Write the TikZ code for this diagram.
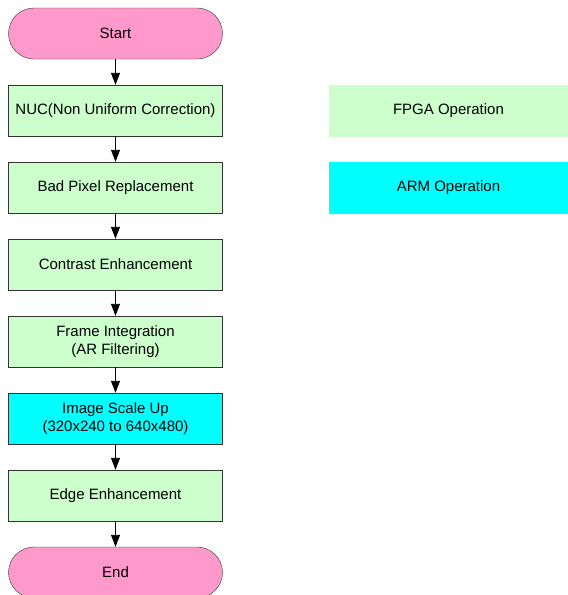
\documentclass[tikz,border=0pt]{standalone}
\usepackage{fontspec}
\setmainfont{Liberation Sans}
\usetikzlibrary{positioning, arrows.meta}
\colorlet{box edge}{black!80}
\definecolor{fpga area}{HTML}{CCFFCC}
\definecolor{arm area}{HTML}{00FFFF}
\definecolor{term area}{HTML}{FF99CC}
\tikzset{
  x=1pt, y=1pt,
  every node/.style={font=\fontsize{15}{17.5}\selectfont, align=center},
  fpgabox/.style={rectangle, fill=fpga area, draw=box edge, minimum width=214pt, minimum height=51pt},
  armbox/.style={fpgabox, fill=arm area},
  terminal/.style={fpgabox, fill=term area, rounded corners=25.5pt},
  legend/.style={rectangle, minimum width=239pt, minimum height=52pt},
  edge/.style={-{Triangle[width=9pt,length=12pt]}, draw=black, line width=0.9pt},
  node distance=25.6pt
}
\begin{document}
\begin{tikzpicture}
    \useasboundingbox (0,0) rectangle (568,-595);
    \node[terminal] (start) at (115.5,-33.5) {Start};
    \node[fpgabox, below=of start] (nuc) {NUC(Non Uniform Correction)};
    \node[fpgabox, below=of nuc] (badpix) {Bad Pixel Replacement};
    \node[fpgabox, below=of badpix] (contrast) {Contrast Enhancement};
    \node[fpgabox, below=of contrast] (frame) {Frame Integration\\(AR Filtering)};
    \node[armbox, below=of frame] (scale) {Image Scale Up\\(320x240 to 640x480)};
    \node[fpgabox, below=of scale] (edgeenh) {Edge Enhancement};
    \node[terminal, below=of edgeenh] (end) {End};
    % legend
    \node[legend, fill=fpga area] (fpga) at (448.5,-111) {FPGA Operation};
    \node[legend, fill=arm area] (arm) at (448.5,-187.5) {ARM Operation};
    % connectors
    \foreach \a/\b in {start/nuc, nuc/badpix, badpix/contrast, contrast/frame,
                       frame/scale, scale/edgeenh, edgeenh/end}
      \draw[edge] (\a) -- (\b);
  \end{tikzpicture}
\end{document}
